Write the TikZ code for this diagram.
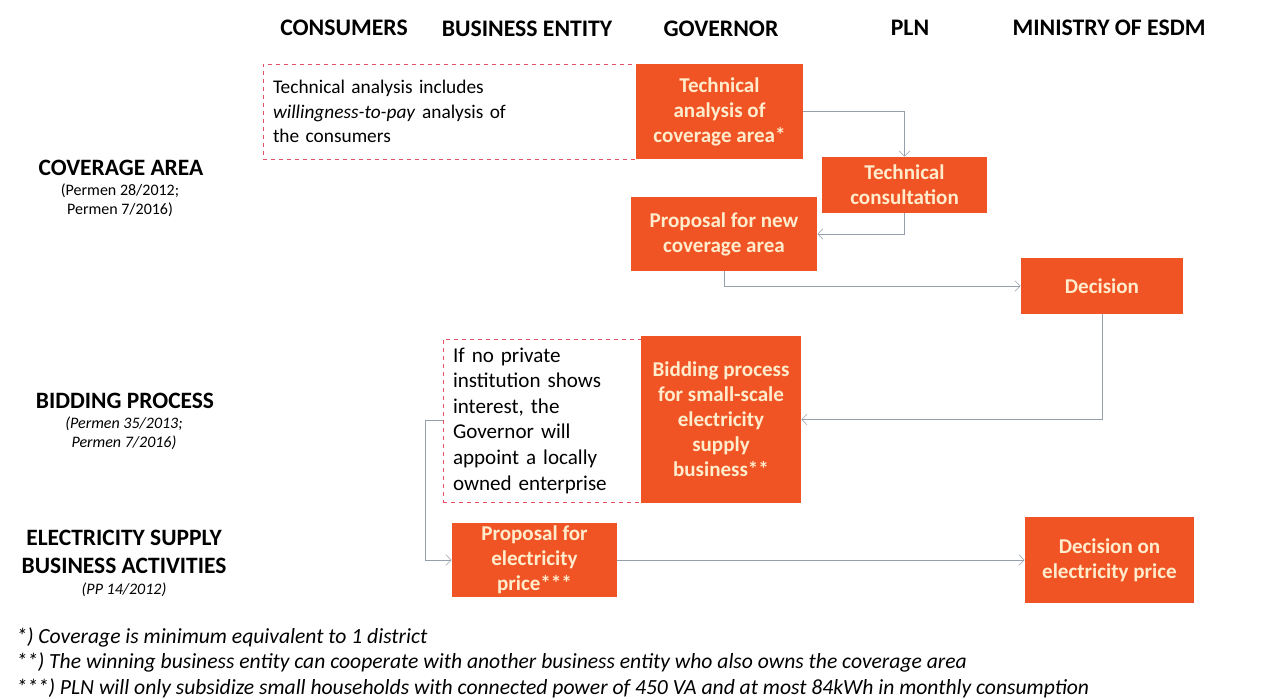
\documentclass[tikz,border=0pt]{standalone}
\usepackage{fontspec}
\setmainfont{Carlito}
\usepackage{xcolor}
\usetikzlibrary{arrows.meta}
\definecolor{govorange}{RGB}{240,84,36}
\definecolor{boxtext}{RGB}{255,236,205}
\definecolor{notepink}{RGB}{232,80,100}
\definecolor{flowgray}{RGB}{150,160,172}
\newcommand{\notefont}{\fontsize{15.8}{19.2}\selectfont}
\tikzset{
    boxsize/.style 2 args={minimum width=#1*0.75pt, minimum height=#2*0.75pt},
    govbox/.style={fill=govorange, text=boxtext, align=center, inner sep=2pt,
        font=\fontsize{15.8}{18.8}\selectfont\bfseries},
    notebox/.style={draw=notepink, text=black, line width=0.7pt, dashed, inner xsep=7.5pt,
        inner ysep=3pt, align=left, font=\fontsize{14.5}{18.5}\selectfont},
    header/.style={font=\fontsize{17.8}{21}\selectfont\bfseries},
    rowlabel/.style={font=\fontsize{17.6}{21}\selectfont\bfseries, align=center},
    rowsub/.style={font=\fontsize{12}{14}\selectfont, align=center},
    footnote/.style={anchor=west, inner sep=0pt, font=\fontsize{16.2}{18}\selectfont\itshape},
    flow/.style={draw=flowgray, thin, -{Straight Barb[length=4pt, width=8pt]}}
}
\begin{document}
\begin{tikzpicture}[x=0.75pt, y=-0.75pt]
    \useasboundingbox (0,0) rectangle (1264,699);
    % Column headers
    \node[header] (hcons) at (344,28) {CONSUMERS};
    \node[header] (hbus) at (527,29) {BUSINESS ENTITY};
    \node[header] (hgov) at (721,29) {GOVERNOR};
    \node[header] (hpln) at (910,28) {PLN};
    \node[header] (hmin) at (1109,28) {MINISTRY OF ESDM};

    % Row labels
    \node[rowlabel] (rcov) at (121,168) {COVERAGE AREA};
    \node[rowsub] (rcovsub) at (120,200) {(Permen 28/2012;\\Permen 7/2016)};
    \node[rowlabel] (rbid) at (125,401) {BIDDING PROCESS};
    \node[rowsub, font=\fontsize{12}{14}\selectfont\itshape] (rbidsub) at (124,433) {(Permen 35/2013;\\Permen 7/2016)};
    \node[rowlabel] (rsup) at (124,552) {ELECTRICITY SUPPLY\\BUSINESS ACTIVITIES};
    \node[rowsub, font=\fontsize{12}{14}\selectfont\itshape] (rsupsub) at (124,590) {(PP 14/2012)};

    % Notes (dashed)
    \node[notebox, boxsize={373}{95}, text width=353*0.75pt] (note1) at (449.5,111.5)
        {Technical analysis includes\\\textit{willingness-to-pay} analysis of\\the consumers};
    \node[notebox, boxsize={198}{163}, text width=178*0.75pt, font=\notefont] (note2) at (542,420.5)
        {If no private\\institution shows\\interest, the\\Governor will\\appoint a locally\\owned enterprise};

    % Process boxes
    \node[govbox, boxsize={167}{95}] (techana) at (719.5,111.5) {Technical\\analysis of\\coverage area*};
    \node[govbox, boxsize={165}{56}] (techcon) at (904.5,185) {Technical\\consultation};
    \node[govbox, boxsize={186}{74}] (propnew) at (724,234) {Proposal for new\\coverage area};
    \node[govbox, boxsize={162}{56}] (decision) at (1102,286) {Decision};
    \node[govbox, boxsize={160}{167}] (bidding) at (721,419.5) {Bidding process\\for small-scale\\electricity\\supply\\business**};
    \node[govbox, boxsize={165}{74}] (propprice) at (534.5,560) {Proposal for\\electricity\\price***};
    \node[govbox, boxsize={169}{86}] (decprice) at (1109.5,560) {Decision on\\electricity price};

    % Connectors
    \draw[flow] (techana.east) -| (techcon.north);
    \draw[flow] (techcon.south) |- (propnew.east);
    \draw[flow] (propnew.south) |- (decision.west);
    \draw[flow] (decision.south) |- (bidding.east);
    \coordinate (bend) at (425,420.5);
    \draw[flow] (note2.west) -- (bend) |- (propprice.west);
    \draw[flow] (propprice.east) -- (decprice.west);

    % Footnotes
    \node[footnote] (fn1) at (16,637) {*) Coverage is minimum equivalent to 1 district};
    \node[footnote] (fn2) at (16,662) {**) The winning business entity can cooperate with another business entity who also owns the coverage area};
    \node[footnote] (fn3) at (16,688) {***) PLN will only subsidize small households with connected power of 450 VA and at most 84kWh in monthly consumption};
\end{tikzpicture}
\end{document}
